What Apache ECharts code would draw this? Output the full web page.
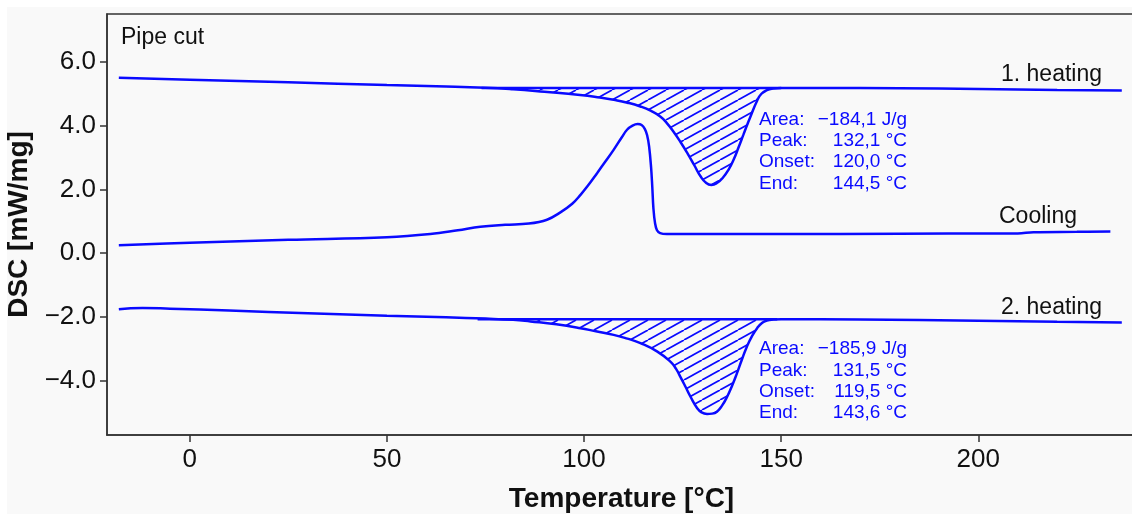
<!DOCTYPE html>
<html>
<head>
<meta charset="utf-8">
<script src="https://cdn.jsdelivr.net/npm/echarts@6/dist/echarts.min.js"></script>
<style>
html,body{margin:0;padding:0;background:#fff;}
#c{width:1132px;height:514px;}
</style>
</head>
<body>
<div id="c"></div>
<script>
// ---- data (temperature °C, DSC mW/mg) ----
const heating1 = [
  [-18,5.50],[0,5.44],[25,5.36],[50,5.27],[65,5.23],[75,5.19],[82,5.14],[90,5.06],[99,4.96],
  [104,4.88],[107.5,4.81],[111,4.72],[114.3,4.60],[117,4.46],[119.4,4.28],[121,4.08],[122.7,3.81],
  [124.5,3.48],[126.2,3.14],[128,2.75],[129.5,2.42],[131,2.20],[132.3,2.14],[133.8,2.21],[135.3,2.38],
  [136.7,2.63],[137.9,2.92],[139.2,3.32],[140.4,3.71],[141.3,4.00],[142.2,4.28],[143.9,4.78],
  [145,5.00],[146.4,5.11],[148,5.16],[150,5.18],[160,5.18],[180,5.17],[200,5.15],[220,5.12],[236.4,5.10]
];
const cooling = [
  [-18,0.25],[0,0.33],[25,0.42],[50,0.50],[61,0.60],[68,0.72],[73.7,0.83],[80,0.89],[86,0.93],
  [90.6,1.05],[94,1.28],[97,1.55],[99.1,1.83],[101,2.12],[103.3,2.51],[105.5,2.89],[107.5,3.24],
  [109.5,3.62],[110.9,3.87],[112.3,4.00],[113.6,4.05],[114.6,4.02],[115.4,3.90],[116,3.70],[116.5,3.35],
  [117,2.70],[117.3,2.10],[117.6,1.40],[118,0.95],[118.5,0.72],[119.3,0.63],[121,0.60],[150,0.60],
  [180,0.61],[205,0.62],[210,0.62],[214,0.66],[225,0.67],[233.5,0.68]
];
const heating2 = [
  [-18,-1.76],[-12,-1.72],[-5,-1.74],[10,-1.80],[30,-1.88],[50,-1.96],[65,-2.01],[75,-2.05],[82,-2.09],
  [86.4,-2.14],[93,-2.23],[99.1,-2.35],[103,-2.45],[107.5,-2.56],[111,-2.68],[114.3,-2.82],[118.5,-3.08],
  [121.9,-3.40],[123.3,-3.62],[124.4,-3.87],[125.7,-4.18],[127,-4.50],[128.7,-4.86],[129.8,-4.99],
  [131.2,-5.04],[132.5,-5.03],[133.7,-4.97],[135,-4.78],[136.3,-4.50],[137.6,-4.14],[138.8,-3.76],
  [140,-3.35],[141.3,-2.93],[142.6,-2.60],[143.9,-2.35],[145.2,-2.18],[146.4,-2.11],[148,-2.08],
  [150,-2.07],[170,-2.08],[200,-2.12],[220,-2.15],[236.4,-2.17]
];
// integration baselines [T start, T end, DSC level]
const baseline1 = [74, 150, 5.18];
const baseline2 = [73, 149, -2.07];

const xTicks = [0, 50, 100, 150, 200];
const yTicks = [-4, -2, 0, 2, 4, 6];

const curveLabels = ['1. heating', 'Cooling', '2. heating'];
const resultKeys = ['Area:', 'Peak:', 'Onset:', 'End:'];
const results1 = ['\u2212184,1 J/g', '132,1 °C', '120,0 °C', '144,5 °C'];
const results2 = ['\u2212185,9 J/g', '131,5 °C', '119,5 °C', '143,6 °C'];

// ---- hatch pattern ----
const BLUE = '#0a0aff';
function hatch() {
  const w = 18, h = 10;
  const cv = document.createElement('canvas');
  cv.width = w; cv.height = h;
  const g = cv.getContext('2d');
  g.strokeStyle = BLUE; g.lineWidth = 1.7;
  for (const dx of [-w, 0, w]) {
    g.beginPath(); g.moveTo(dx, h); g.lineTo(dx + w, 0); g.stroke();
  }
  return cv;
}
const pat = hatch();

function seg(data, b) { return data.filter(p => p[0] >= b[0] && p[0] <= b[1]); }

const FONT = 'Liberation Sans, Arial, sans-serif';
const chart = echarts.init(document.getElementById('c'), null, {renderer: 'canvas'});

const lineCommon = {
  type: 'line', showSymbol: false, smooth: 0.5,
  lineStyle: {color: BLUE, width: 2.5}, z: 3, silent: true
};
const hatchCommon = {
  type: 'line', showSymbol: false, smooth: 0.5,
  lineStyle: {width: 0}, z: 2, silent: true
};

const graphics = [
  {type: 'rect', shape: {x: 7, y: 7, width: 1125, height: 507}, style: {fill: '#f9f9f9'}, z: -10, silent: true},
  {type: 'text', left: 121, top: 26, style: {text: 'Pipe cut', font: '23px ' + FONT, fill: '#111'}},
];
function rightText(txt, xr, yc) {
  return {type: 'text', x: xr, y: yc, style: {text: txt, font: '23px ' + FONT, fill: '#111', align: 'right', verticalAlign: 'middle'}};
}
graphics.push(rightText(curveLabels[0], 1102, 75));
graphics.push(rightText(curveLabels[1], 1077, 217));
graphics.push(rightText(curveLabels[2], 1102, 308));
function block(vals, y0) {
  resultKeys.forEach((k, i) => {
    const y = y0 + i * 21.3;
    graphics.push({type: 'text', x: 759, y: y, style: {text: k, font: '19px ' + FONT, fill: BLUE, verticalAlign: 'middle'}});
    graphics.push({type: 'text', x: 907, y: y, style: {text: vals[i], font: '19px ' + FONT, fill: BLUE, align: 'right', verticalAlign: 'middle'}});
  });
}
block(results1, 119.5);
block(results2, 349);

chart.setOption({
  animation: false,
  backgroundColor: '#ffffff',
  textStyle: {fontFamily: FONT},
  grid: {left: 107, top: 14, right: -4, bottom: 79, show: true, borderColor: '#333', borderWidth: 1.5,
         backgroundColor: 'transparent', containLabel: false, outerBoundsMode: 'none'},
  xAxis: {
    type: 'value', min: -21, max: 240,
    name: 'Temperature [°C]', nameLocation: 'middle', nameGap: 50,
    nameTextStyle: {fontSize: 28, fontWeight: 'bold', color: '#111', fontFamily: FONT},
    axisLine: {show: true, onZero: false, lineStyle: {color: '#333', width: 1.5}},
    axisTick: {show: true, length: 7, inside: false, customValues: xTicks, lineStyle: {color: '#333', width: 1.5}},
    axisLabel: {customValues: xTicks, fontSize: 26, color: '#111', margin: 12, fontFamily: FONT},
    splitLine: {show: false}
  },
  yAxis: {
    type: 'value', min: -5.7, max: 7.5,
    name: 'DSC [mW/mg]', nameLocation: 'middle', nameGap: 64,
    nameTextStyle: {fontSize: 28, fontWeight: 'bold', color: '#111', fontFamily: FONT},
    axisLine: {show: true, onZero: false, lineStyle: {color: '#333', width: 1.5}},
    axisTick: {show: true, length: 7, inside: false, customValues: yTicks, lineStyle: {color: '#333', width: 1.5}},
    axisLabel: {customValues: yTicks, fontSize: 26, color: '#111', margin: 11, fontFamily: FONT,
      formatter: v => (v < 0 ? '\u2212' : '') + Math.abs(v).toFixed(1)},
    splitLine: {show: false}
  },
  graphic: graphics,
  series: [
    Object.assign({}, hatchCommon, {data: seg(heating1, baseline1), areaStyle: {origin: baseline1[2], color: {image: pat, repeat: 'repeat'}, opacity: 1}}),
    Object.assign({}, hatchCommon, {data: seg(heating2, baseline2), areaStyle: {origin: baseline2[2], color: {image: pat, repeat: 'repeat'}, opacity: 1}}),
    Object.assign({}, lineCommon, {data: heating1}),
    Object.assign({}, lineCommon, {data: cooling, smooth: 0.4}),
    Object.assign({}, lineCommon, {data: heating2}),
    Object.assign({}, lineCommon, {smooth: false, data: [[baseline1[0], baseline1[2]], [baseline1[1], baseline1[2]]]}),
    Object.assign({}, lineCommon, {smooth: false, data: [[baseline2[0], baseline2[2]], [baseline2[1], baseline2[2]]]})
  ]
});
</script>
</body>
</html>
